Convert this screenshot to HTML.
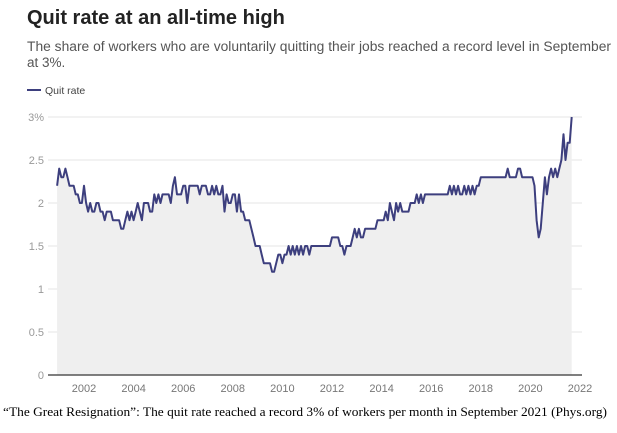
<!DOCTYPE html>
<html><head><meta charset="utf-8"><style>
body{margin:0;width:617px;height:428px;background:#fff;overflow:hidden;font-family:"Liberation Sans",sans-serif}
</style></head><body>
<svg width="617" height="428">
<text x="27" y="24" font-size="20" font-weight="bold" fill="#222">Quit rate at an all-time high</text>
<text x="27" y="51" font-size="13.5" fill="#555" textLength="584" lengthAdjust="spacingAndGlyphs">The share of workers who are voluntarily quitting their jobs reached a record level in September</text>
<text x="27" y="67" font-size="13.5" fill="#555">at 3%.</text>
<g>
<line x1="27" y1="90" x2="41" y2="90" stroke="#3d3f7e" stroke-width="2"/>
<text x="45" y="94" font-size="10.5" fill="#444">Quit rate</text>
</g>
<g id="grid"></g>
<path id="area" fill="#efefef"/>
<path id="line" fill="none" stroke="#3d3f7e" stroke-width="2" stroke-linejoin="round"/>
<line x1="48" y1="375" x2="582" y2="375" stroke="#555" stroke-width="1.5"/>
<g id="xt"></g>
<text x="3" y="416" font-family="Liberation Serif,serif" font-size="13" fill="#000" textLength="604" lengthAdjust="spacingAndGlyphs">“The Great Resignation”: The quit rate reached a record 3% of workers per month in September 2021 (Phys.org)</text>
</svg>
<script>
const yTicks=[0,0.5,1,1.5,2,2.5,3];
const yLabels=["0","0.5","1","1.5","2","2.5","3%"];
const xTicks=[2002,2004,2006,2008,2010,2012,2014,2016,2018,2020,2022];
const startYear=2000+11/12;
const quitRate=[2.2,
2.4,2.3,2.3,2.4,2.3,2.2,2.2,2.2,2.1,2.1,2.0,2.0,
2.2,2.0,1.9,2.0,1.9,1.9,2.0,2.0,1.9,1.9,1.8,1.9,
1.9,1.9,1.8,1.8,1.8,1.8,1.7,1.7,1.8,1.9,1.8,1.9,
1.8,1.9,2.0,1.9,1.8,2.0,2.0,2.0,1.9,1.9,2.1,2.0,
2.1,2.0,2.1,2.1,2.1,2.1,2.0,2.2,2.3,2.1,2.1,2.1,
2.2,2.2,2.0,2.2,2.2,2.2,2.2,2.2,2.1,2.2,2.2,2.2,
2.1,2.1,2.2,2.1,2.2,2.1,2.1,2.2,1.9,2.1,2.0,2.0,
2.1,2.1,1.9,2.1,1.9,1.9,1.8,1.8,1.8,1.7,1.6,1.5,
1.5,1.5,1.4,1.3,1.3,1.3,1.3,1.2,1.2,1.3,1.4,1.4,
1.3,1.4,1.4,1.5,1.4,1.5,1.4,1.5,1.4,1.5,1.4,1.5,
1.5,1.4,1.5,1.5,1.5,1.5,1.5,1.5,1.5,1.5,1.5,1.5,
1.6,1.6,1.6,1.6,1.5,1.5,1.4,1.5,1.5,1.5,1.6,1.7,
1.6,1.7,1.6,1.6,1.7,1.7,1.7,1.7,1.7,1.7,1.8,1.8,
1.8,1.8,1.9,1.8,2.0,1.9,1.8,2.0,1.9,2.0,1.9,1.9,
1.9,1.9,2.0,2.0,2.0,2.1,2.0,2.1,2.0,2.1,2.1,2.1,
2.1,2.1,2.1,2.1,2.1,2.1,2.1,2.1,2.1,2.2,2.1,2.2,
2.1,2.2,2.1,2.1,2.2,2.1,2.2,2.1,2.2,2.1,2.2,2.2,
2.3,2.3,2.3,2.3,2.3,2.3,2.3,2.3,2.3,2.3,2.3,2.3,
2.3,2.4,2.3,2.3,2.3,2.3,2.4,2.4,2.3,2.3,2.3,2.3,
2.3,2.3,2.2,1.8,1.6,1.7,2.0,2.3,2.1,2.3,2.4,2.3,
2.4,2.3,2.4,2.5,2.8,2.5,2.7,2.7,3.0];
const ns='http://www.w3.org/2000/svg';
const X=t=>84+(t-2002)*24.8, Y=v=>375-v*86;
const g=document.getElementById('grid');
yTicks.forEach((v,i)=>{
 const l=document.createElementNS(ns,'line');
 l.setAttribute('x1',48);l.setAttribute('x2',582);l.setAttribute('y1',Y(v));l.setAttribute('y2',Y(v));
 l.setAttribute('stroke','#e6e6e6');
 
 
 g.appendChild(l);
 const t=document.createElementNS(ns,'text');
 t.setAttribute('x',44);t.setAttribute('y',Y(v)+4);t.setAttribute('text-anchor','end');
 t.setAttribute('font-size','11');t.setAttribute('fill','#999');t.textContent=yLabels[i];
 
 
 g.appendChild(t);
});
const xt=document.getElementById('xt');
xTicks.forEach(yr=>{
 const t=document.createElementNS(ns,'text');
 t.setAttribute('x',X(yr));t.setAttribute('y',392);t.setAttribute('text-anchor','middle');
 t.setAttribute('font-size','11');t.setAttribute('fill','#777');t.textContent=yr;
 
 
 xt.appendChild(t);
});
const pts=quitRate.map((v,i)=>[X(startYear+i/12),Y(v)]);
const d=pts.map((p,i)=>(i?'L':'M')+p[0].toFixed(1)+','+p[1].toFixed(1)).join('');
document.getElementById('line').setAttribute('d',d);
document.getElementById('area').setAttribute('d',d+'L'+pts[pts.length-1][0].toFixed(1)+',375L'+pts[0][0].toFixed(1)+',375Z');
</script>
</body></html>
